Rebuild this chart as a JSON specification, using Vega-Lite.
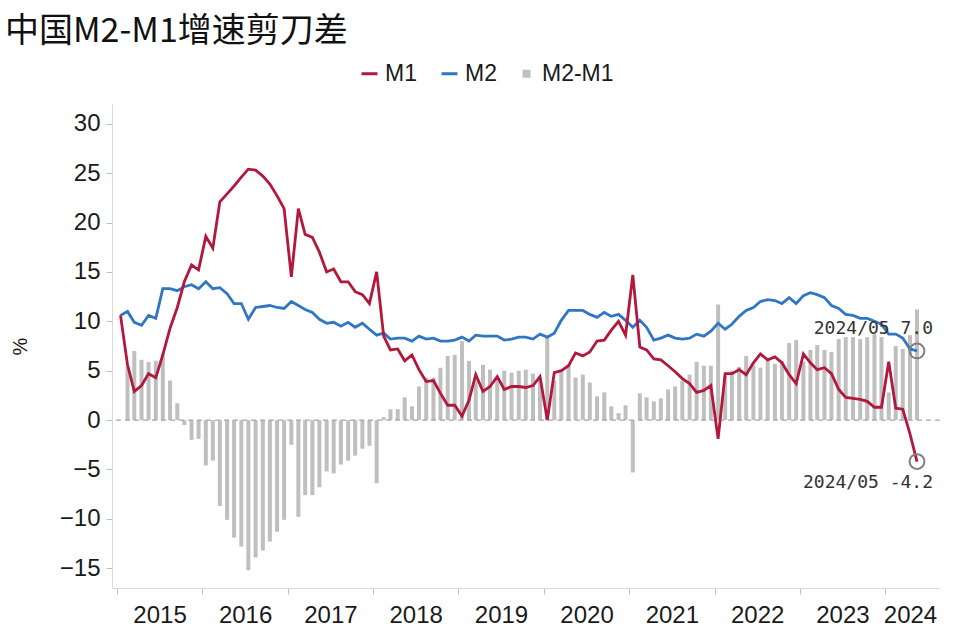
{
  "$schema": "https://vega.github.io/schema/vega-lite/v6.json",
  "width": 828,
  "height": 484,
  "autosize": {"type": "none"},
  "padding": {"left": 112, "top": 104, "right": 20, "bottom": 48},
  "background": "white",
  "title": {
    "text": "中国M2-M1增速剪刀差",
    "anchor": "start",
    "frame": "group",
    "font": "Noto Sans CJK SC",
    "fontSize": 34,
    "fontWeight": "normal",
    "color": "#111111",
    "dx": -107,
    "offset": 13
  },
  "config": {
    "view": {"stroke": null},
    "font": "Liberation Sans",
    "legend": {
      "labelFont": "Liberation Sans",
      "labelFontSize": 23,
      "labelColor": "#1a1a1a",
      "labelFontWeight": "normal"
    }
  },
  "datasets": {
    "months": [
      {"date": "2015-01-16", "M1": 10.6, "M2": 10.6, "diff": 0.0},
      {"date": "2015-02-15", "M1": 5.6, "M2": 11.0, "diff": 5.4},
      {"date": "2015-03-16", "M1": 2.9, "M2": 9.9, "diff": 7.0},
      {"date": "2015-04-16", "M1": 3.5, "M2": 9.6, "diff": 6.1},
      {"date": "2015-05-16", "M1": 4.7, "M2": 10.6, "diff": 5.9},
      {"date": "2015-06-16", "M1": 4.3, "M2": 10.3, "diff": 6.0},
      {"date": "2015-07-16", "M1": 6.6, "M2": 13.3, "diff": 6.7},
      {"date": "2015-08-16", "M1": 9.3, "M2": 13.3, "diff": 4.0},
      {"date": "2015-09-16", "M1": 11.4, "M2": 13.1, "diff": 1.7},
      {"date": "2015-10-16", "M1": 14.0, "M2": 13.5, "diff": -0.5},
      {"date": "2015-11-16", "M1": 15.7, "M2": 13.7, "diff": -2.0},
      {"date": "2015-12-16", "M1": 15.2, "M2": 13.3, "diff": -1.9},
      {"date": "2016-01-16", "M1": 18.6, "M2": 14.0, "diff": -4.6},
      {"date": "2016-02-15", "M1": 17.4, "M2": 13.3, "diff": -4.1},
      {"date": "2016-03-16", "M1": 22.1, "M2": 13.4, "diff": -8.7},
      {"date": "2016-04-16", "M1": 22.9, "M2": 12.8, "diff": -10.1},
      {"date": "2016-05-16", "M1": 23.7, "M2": 11.8, "diff": -11.9},
      {"date": "2016-06-16", "M1": 24.6, "M2": 11.8, "diff": -12.8},
      {"date": "2016-07-16", "M1": 25.4, "M2": 10.2, "diff": -15.2},
      {"date": "2016-08-16", "M1": 25.3, "M2": 11.4, "diff": -13.9},
      {"date": "2016-09-16", "M1": 24.7, "M2": 11.5, "diff": -13.2},
      {"date": "2016-10-16", "M1": 23.9, "M2": 11.6, "diff": -12.3},
      {"date": "2016-11-16", "M1": 22.7, "M2": 11.4, "diff": -11.3},
      {"date": "2016-12-16", "M1": 21.4, "M2": 11.3, "diff": -10.1},
      {"date": "2017-01-16", "M1": 14.5, "M2": 12.0, "diff": -2.5},
      {"date": "2017-02-15", "M1": 21.4, "M2": 11.6, "diff": -9.8},
      {"date": "2017-03-16", "M1": 18.8, "M2": 11.2, "diff": -7.6},
      {"date": "2017-04-16", "M1": 18.5, "M2": 10.9, "diff": -7.6},
      {"date": "2017-05-16", "M1": 17.0, "M2": 10.2, "diff": -6.8},
      {"date": "2017-06-16", "M1": 15.0, "M2": 9.8, "diff": -5.2},
      {"date": "2017-07-16", "M1": 15.3, "M2": 9.9, "diff": -5.4},
      {"date": "2017-08-16", "M1": 14.0, "M2": 9.5, "diff": -4.5},
      {"date": "2017-09-16", "M1": 14.0, "M2": 9.9, "diff": -4.1},
      {"date": "2017-10-16", "M1": 13.0, "M2": 9.4, "diff": -3.6},
      {"date": "2017-11-16", "M1": 12.7, "M2": 9.8, "diff": -2.9},
      {"date": "2017-12-16", "M1": 11.8, "M2": 9.2, "diff": -2.6},
      {"date": "2018-01-16", "M1": 15.0, "M2": 8.6, "diff": -6.4},
      {"date": "2018-02-15", "M1": 8.5, "M2": 8.8, "diff": 0.3},
      {"date": "2018-03-16", "M1": 7.1, "M2": 8.2, "diff": 1.1},
      {"date": "2018-04-16", "M1": 7.2, "M2": 8.3, "diff": 1.1},
      {"date": "2018-05-16", "M1": 6.0, "M2": 8.3, "diff": 2.3},
      {"date": "2018-06-16", "M1": 6.6, "M2": 8.0, "diff": 1.4},
      {"date": "2018-07-16", "M1": 5.1, "M2": 8.5, "diff": 3.4},
      {"date": "2018-08-16", "M1": 3.9, "M2": 8.2, "diff": 4.3},
      {"date": "2018-09-16", "M1": 4.0, "M2": 8.3, "diff": 4.3},
      {"date": "2018-10-16", "M1": 2.7, "M2": 8.0, "diff": 5.3},
      {"date": "2018-11-16", "M1": 1.5, "M2": 8.0, "diff": 6.5},
      {"date": "2018-12-16", "M1": 1.5, "M2": 8.1, "diff": 6.6},
      {"date": "2019-01-16", "M1": 0.4, "M2": 8.4, "diff": 8.0},
      {"date": "2019-02-15", "M1": 2.0, "M2": 8.0, "diff": 6.0},
      {"date": "2019-03-16", "M1": 4.6, "M2": 8.6, "diff": 4.0},
      {"date": "2019-04-16", "M1": 2.9, "M2": 8.5, "diff": 5.6},
      {"date": "2019-05-16", "M1": 3.4, "M2": 8.5, "diff": 5.1},
      {"date": "2019-06-16", "M1": 4.4, "M2": 8.5, "diff": 4.1},
      {"date": "2019-07-16", "M1": 3.1, "M2": 8.1, "diff": 5.0},
      {"date": "2019-08-16", "M1": 3.4, "M2": 8.2, "diff": 4.8},
      {"date": "2019-09-16", "M1": 3.4, "M2": 8.4, "diff": 5.0},
      {"date": "2019-10-16", "M1": 3.3, "M2": 8.4, "diff": 5.1},
      {"date": "2019-11-16", "M1": 3.5, "M2": 8.2, "diff": 4.7},
      {"date": "2019-12-16", "M1": 4.4, "M2": 8.7, "diff": 4.3},
      {"date": "2020-01-16", "M1": 0.0, "M2": 8.4, "diff": 8.4},
      {"date": "2020-02-15", "M1": 4.8, "M2": 8.8, "diff": 4.0},
      {"date": "2020-03-16", "M1": 5.0, "M2": 10.1, "diff": 5.1},
      {"date": "2020-04-16", "M1": 5.5, "M2": 11.1, "diff": 5.6},
      {"date": "2020-05-16", "M1": 6.8, "M2": 11.1, "diff": 4.3},
      {"date": "2020-06-16", "M1": 6.5, "M2": 11.1, "diff": 4.6},
      {"date": "2020-07-16", "M1": 6.9, "M2": 10.7, "diff": 3.8},
      {"date": "2020-08-16", "M1": 8.0, "M2": 10.4, "diff": 2.4},
      {"date": "2020-09-16", "M1": 8.1, "M2": 10.9, "diff": 2.8},
      {"date": "2020-10-16", "M1": 9.1, "M2": 10.5, "diff": 1.4},
      {"date": "2020-11-16", "M1": 10.0, "M2": 10.7, "diff": 0.7},
      {"date": "2020-12-16", "M1": 8.6, "M2": 10.1, "diff": 1.5},
      {"date": "2021-01-16", "M1": 14.7, "M2": 9.4, "diff": -5.3},
      {"date": "2021-02-15", "M1": 7.4, "M2": 10.1, "diff": 2.7},
      {"date": "2021-03-16", "M1": 7.1, "M2": 9.4, "diff": 2.3},
      {"date": "2021-04-16", "M1": 6.2, "M2": 8.1, "diff": 1.9},
      {"date": "2021-05-16", "M1": 6.1, "M2": 8.3, "diff": 2.2},
      {"date": "2021-06-16", "M1": 5.5, "M2": 8.6, "diff": 3.1},
      {"date": "2021-07-16", "M1": 4.9, "M2": 8.3, "diff": 3.4},
      {"date": "2021-08-16", "M1": 4.2, "M2": 8.2, "diff": 4.0},
      {"date": "2021-09-16", "M1": 3.7, "M2": 8.3, "diff": 4.6},
      {"date": "2021-10-16", "M1": 2.8, "M2": 8.7, "diff": 5.9},
      {"date": "2021-11-16", "M1": 3.0, "M2": 8.5, "diff": 5.5},
      {"date": "2021-12-16", "M1": 3.5, "M2": 9.0, "diff": 5.5},
      {"date": "2022-01-16", "M1": -1.9, "M2": 9.8, "diff": 11.7},
      {"date": "2022-02-15", "M1": 4.7, "M2": 9.2, "diff": 4.5},
      {"date": "2022-03-16", "M1": 4.7, "M2": 9.7, "diff": 5.0},
      {"date": "2022-04-16", "M1": 5.1, "M2": 10.5, "diff": 5.4},
      {"date": "2022-05-16", "M1": 4.6, "M2": 11.1, "diff": 6.5},
      {"date": "2022-06-16", "M1": 5.8, "M2": 11.4, "diff": 5.6},
      {"date": "2022-07-16", "M1": 6.7, "M2": 12.0, "diff": 5.3},
      {"date": "2022-08-16", "M1": 6.1, "M2": 12.2, "diff": 6.1},
      {"date": "2022-09-16", "M1": 6.4, "M2": 12.1, "diff": 5.7},
      {"date": "2022-10-16", "M1": 5.8, "M2": 11.8, "diff": 6.0},
      {"date": "2022-11-16", "M1": 4.6, "M2": 12.4, "diff": 7.8},
      {"date": "2022-12-16", "M1": 3.7, "M2": 11.8, "diff": 8.1},
      {"date": "2023-01-16", "M1": 6.7, "M2": 12.6, "diff": 5.9},
      {"date": "2023-02-15", "M1": 5.8, "M2": 12.9, "diff": 7.1},
      {"date": "2023-03-16", "M1": 5.1, "M2": 12.7, "diff": 7.6},
      {"date": "2023-04-16", "M1": 5.3, "M2": 12.4, "diff": 7.1},
      {"date": "2023-05-16", "M1": 4.7, "M2": 11.6, "diff": 6.9},
      {"date": "2023-06-16", "M1": 3.1, "M2": 11.3, "diff": 8.2},
      {"date": "2023-07-16", "M1": 2.3, "M2": 10.7, "diff": 8.4},
      {"date": "2023-08-16", "M1": 2.2, "M2": 10.6, "diff": 8.4},
      {"date": "2023-09-16", "M1": 2.1, "M2": 10.3, "diff": 8.2},
      {"date": "2023-10-16", "M1": 1.9, "M2": 10.3, "diff": 8.4},
      {"date": "2023-11-16", "M1": 1.3, "M2": 10.0, "diff": 8.7},
      {"date": "2023-12-16", "M1": 1.3, "M2": 9.7, "diff": 8.4},
      {"date": "2024-01-16", "M1": 5.9, "M2": 8.7, "diff": 2.8},
      {"date": "2024-02-15", "M1": 1.2, "M2": 8.7, "diff": 7.5},
      {"date": "2024-03-16", "M1": 1.1, "M2": 8.3, "diff": 7.2},
      {"date": "2024-04-16", "M1": -1.4, "M2": 7.2, "diff": 8.6},
      {"date": "2024-05-16", "M1": -4.2, "M2": 7.0, "diff": 11.2}
    ],
    "annTop": [{"date": "2024-05-16", "value": 7.0, "label": "2024/05 7.0"}],
    "annBottom": [{"date": "2024-05-16", "value": -4.2, "label": "2024/05 -4.2"}],
    "zero": [{"y0": 0}]
  },
  "resolve": {"axis": {"x": "independent"}},
  "layer": [
    {
      "data": {"name": "months"},
      "mark": {"type": "bar", "size": 4},
      "encoding": {
        "x": {
          "field": "date",
          "type": "temporal",
          "scale": {
            "type": "utc",
            "domain": [
              {"year": 2015, "month": 1, "date": 1, "utc": true},
              {"year": 2024, "month": 8, "date": 1, "utc": true}
            ]
          },
          "axis": {
            "orient": "bottom",
            "values": [
              {"year": 2015, "month": 1, "date": 1, "utc": true},
              {"year": 2016, "month": 1, "date": 1, "utc": true},
              {"year": 2017, "month": 1, "date": 1, "utc": true},
              {"year": 2018, "month": 1, "date": 1, "utc": true},
              {"year": 2019, "month": 1, "date": 1, "utc": true},
              {"year": 2020, "month": 1, "date": 1, "utc": true},
              {"year": 2021, "month": 1, "date": 1, "utc": true},
              {"year": 2022, "month": 1, "date": 1, "utc": true},
              {"year": 2023, "month": 1, "date": 1, "utc": true},
              {"year": 2024, "month": 1, "date": 1, "utc": true}
            ],
            "labels": false,
            "grid": false,
            "title": null,
            "domainColor": "#d9d9d9",
            "tickColor": "#bfbfbf",
            "tickSize": 6
          }
        },
        "y": {
          "field": "diff",
          "type": "quantitative",
          "title": "%",
          "scale": {"domain": [-17, 32], "nice": false, "zero": false},
          "axis": {
            "values": [-15, -10, -5, 0, 5, 10, 15, 20, 25, 30],
            "grid": false,
            "title": "%",
            "titleFont": "Liberation Sans",
            "titleFontSize": 20,
            "titleFontWeight": "normal",
            "titleColor": "#1a1a1a",
            "titlePadding": 29,
            "labelFont": "Liberation Sans",
            "labelFontSize": 24,
            "labelColor": "#1a1a1a",
            "labelPadding": 6,
            "domainColor": "#d9d9d9",
            "tickColor": "#bfbfbf",
            "tickSize": 6
          }
        },
        "color": {
          "datum": "M2-M1",
          "type": "nominal",
          "scale": {"domain": ["M1", "M2", "M2-M1"], "range": ["#b3173c", "#2f76c4", "#bfbfbf"]},
          "legend": {
            "title": null,
            "orient": "none",
            "legendX": 246,
            "legendY": -42,
            "direction": "horizontal",
            "columns": 3,
            "columnPadding": 18,
            "symbolSize": 256,
            "labelOffset": 4,
            "encode": {
              "symbols": {
                "update": {
                  "shape": {"signal": "datum.value === 'M2-M1' ? 'square' : 'stroke'"},
                  "size": {"signal": "datum.value === 'M2-M1' ? 64 : 256"},
                  "strokeWidth": {"signal": "datum.value === 'M2-M1' ? 0 : 3"},
                  "fill": {"signal": "datum.value === 'M2-M1' ? '#bfbfbf' : 'transparent'"},
                  "stroke": {"signal": "datum.value === 'M1' ? '#b3173c' : (datum.value === 'M2' ? '#2f76c4' : '#bfbfbf')"},
                  "opacity": {"value": 1}
                }
              }
            }
          }
        }
      }
    },
    {
      "data": {"name": "zero"},
      "mark": {"type": "rule", "color": "#a6a6a6", "strokeWidth": 1.2, "strokeDash": [5, 4]},
      "encoding": {
        "y": {"field": "y0", "type": "quantitative", "title": "%"}
      }
    },
    {
      "data": {"name": "months"},
      "mark": {"type": "line", "strokeWidth": 2.8},
      "encoding": {
        "x": {"field": "date", "type": "temporal", "axis": null},
        "y": {"field": "M2", "type": "quantitative", "title": "%"},
        "color": {"datum": "M2", "type": "nominal", "legend": null}
      }
    },
    {
      "data": {"name": "months"},
      "mark": {"type": "line", "strokeWidth": 2.8},
      "encoding": {
        "x": {
          "field": "date",
          "type": "temporal",
          "axis": {
            "orient": "bottom",
            "values": [
              {"year": 2015, "month": 7, "date": 2, "utc": true},
              {"year": 2016, "month": 7, "date": 2, "utc": true},
              {"year": 2017, "month": 7, "date": 2, "utc": true},
              {"year": 2018, "month": 7, "date": 2, "utc": true},
              {"year": 2019, "month": 7, "date": 2, "utc": true},
              {"year": 2020, "month": 7, "date": 2, "utc": true},
              {"year": 2021, "month": 7, "date": 2, "utc": true},
              {"year": 2022, "month": 7, "date": 2, "utc": true},
              {"year": 2023, "month": 7, "date": 2, "utc": true},
              {"year": 2024, "month": 4, "date": 16, "utc": true}
            ],
            "labelExpr": "utcFormat(datum.value, '%Y')",
            "domain": false,
            "ticks": false,
            "grid": false,
            "title": null,
            "labelFont": "Liberation Sans",
            "labelFontSize": 24,
            "labelColor": "#1a1a1a",
            "labelPadding": 15,
            "labelFlush": false,
            "labelOverlap": false
          }
        },
        "y": {"field": "M1", "type": "quantitative", "title": "%"},
        "color": {"datum": "M1", "type": "nominal", "legend": null}
      }
    },
    {
      "data": {"name": "annTop"},
      "mark": {"type": "point", "shape": "circle", "filled": false, "stroke": "#808080", "strokeWidth": 2, "size": 220, "opacity": 1},
      "encoding": {
        "x": {"field": "date", "type": "temporal", "axis": null},
        "y": {"field": "value", "type": "quantitative", "title": "%"}
      }
    },
    {
      "data": {"name": "annBottom"},
      "mark": {"type": "point", "shape": "circle", "filled": false, "stroke": "#808080", "strokeWidth": 2, "size": 220, "opacity": 1},
      "encoding": {
        "x": {"field": "date", "type": "temporal", "axis": null},
        "y": {"field": "value", "type": "quantitative", "title": "%"}
      }
    },
    {
      "data": {"name": "annTop"},
      "mark": {"type": "text", "align": "right", "baseline": "middle", "dx": 16, "dy": -22, "font": "DejaVu Sans Mono", "fontSize": 18, "color": "#333333"},
      "encoding": {
        "x": {"field": "date", "type": "temporal", "axis": null},
        "y": {"field": "value", "type": "quantitative", "title": "%"},
        "text": {"field": "label"}
      }
    },
    {
      "data": {"name": "annBottom"},
      "mark": {"type": "text", "align": "right", "baseline": "middle", "dx": 16, "dy": 21, "font": "DejaVu Sans Mono", "fontSize": 18, "color": "#333333"},
      "encoding": {
        "x": {"field": "date", "type": "temporal", "axis": null},
        "y": {"field": "value", "type": "quantitative", "title": "%"},
        "text": {"field": "label"}
      }
    }
  ]
}
